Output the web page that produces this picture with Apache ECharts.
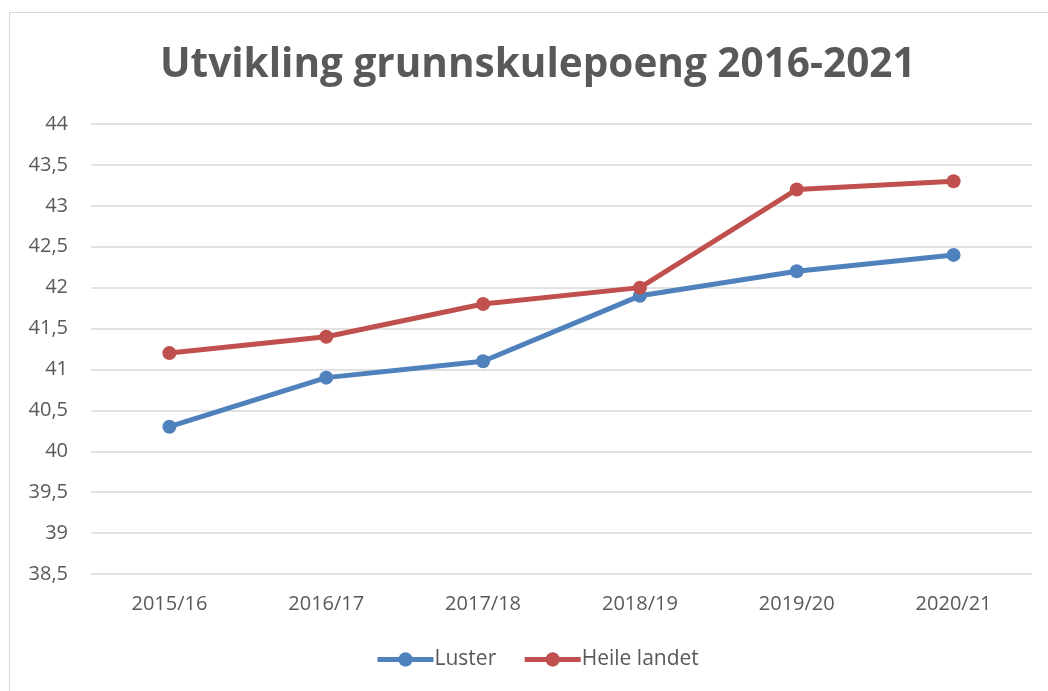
<!DOCTYPE html>
<html>
<head>
<meta charset="utf-8">
<script src="https://cdn.jsdelivr.net/npm/echarts@6/dist/echarts.min.js"></script>
<style>
  html, body { margin: 0; padding: 0; background: #fff; }
  #frame {
    position: absolute; left: 9px; top: 12px; width: 1060px; height: 700px;
    border: 1px solid #d9d9d9; box-sizing: border-box;
  }
  #chart { position: absolute; left: 0; top: 0; width: 1048px; height: 691px; }
</style>
</head>
<body>
<div id="frame"></div>
<div id="chart"></div>
<script>
  // school years on the x axis
  const years = ["2015/16", "2016/17", "2017/18", "2018/19", "2019/20", "2020/21"];
  const luster = [40.3, 40.9, 41.1, 41.9, 42.2, 42.4];
  const heileLandet = [41.2, 41.4, 41.8, 42.0, 43.2, 43.3];

  const textColor = "#595959";
  const font = "'Open Sans', 'Liberation Sans', sans-serif";

  let chart = echarts.init(document.getElementById("chart"));

  let option = {
    animation: false,
    title: {
      text: "Utvikling grunnskulepoeng 2016-2021",
      left: 155,
      top: 40,
      textStyle: { color: textColor, fontSize: 40.5, fontWeight: "bold", fontFamily: font }
    },
    legend: {
      bottom: 16,
      left: 370,
      itemWidth: 56,
      itemHeight: 18,
      itemGap: 26,
      lineStyle: { width: 5 },
      textStyle: { color: textColor, fontSize: 21, fontFamily: font, padding: [0, 0, 0, -4] },
      data: ["Luster", "Heile landet"]
    },
    grid: { left: 91, right: 16, top: 124, bottom: 117 },
    xAxis: {
      type: "category",
      data: years,
      axisLine: { show: false },
      axisTick: { show: false },
      axisLabel: { color: textColor, fontSize: 20, fontFamily: font, margin: 20 }
    },
    yAxis: {
      type: "value",
      min: 38.5,
      max: 44,
      interval: 0.5,
      axisLine: { show: false },
      axisTick: { show: false },
      axisLabel: {
        color: textColor, fontSize: 20, fontFamily: font, margin: 23,
        formatter: v => String(Math.round(v * 10) / 10).replace(".", ",")
      },
      splitLine: { lineStyle: { color: "#d9d9d9", width: 1.5 } }
    },
    series: [
      {
        name: "Luster",
        type: "line",
        data: luster,
        symbol: "circle",
        symbolSize: 14,
        color: "#4f81bd",
        lineStyle: { width: 5, color: "#4f81bd" },
        itemStyle: { color: "#4f81bd" }
      },
      {
        name: "Heile landet",
        type: "line",
        data: heileLandet,
        symbol: "circle",
        symbolSize: 14,
        color: "#c0504d",
        lineStyle: { width: 5, color: "#c0504d" },
        itemStyle: { color: "#c0504d" }
      }
    ]
  };

  chart.setOption(option);
</script>
</body>
</html>
